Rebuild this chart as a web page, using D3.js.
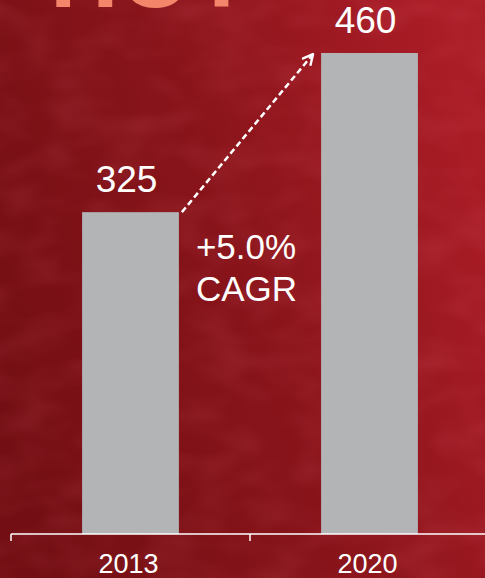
<!DOCTYPE html>
<html>
<head>
<meta charset="utf-8">
<script src="https://cdn.jsdelivr.net/npm/d3@7"></script>
<style>
  html, body { margin: 0; padding: 0; background: #85131a; }
  svg { display: block; }
</style>
</head>
<body>
<div id="chart"></div>
<script>
// Market size by year
const years = ["2013", "2020"];
const values = [325, 460];
const growthLabel = ["+5.0%", "CAGR"];
const headline = "HOT";

const W = 485, H = 578;
const svg = d3.select("#chart").append("svg")
  .attr("width", W).attr("height", H)
  .style("font-family", "'Liberation Sans', Arial, sans-serif");

const defs = svg.append("defs");

// Deep red backdrop, brighter toward the right
const bg = defs.append("linearGradient").attr("id", "bgGrad")
  .attr("x1", "0%").attr("y1", "70%").attr("x2", "100%").attr("y2", "30%");
bg.append("stop").attr("offset", "0%").attr("stop-color", "#730f14");
bg.append("stop").attr("offset", "50%").attr("stop-color", "#88141a");
bg.append("stop").attr("offset", "100%").attr("stop-color", "#aa1c26");

// Soft mottled texture
const tex = defs.append("filter").attr("id", "texture")
  .attr("x", 0).attr("y", 0).attr("width", "100%").attr("height", "100%");
tex.append("feTurbulence").attr("type", "fractalNoise")
  .attr("baseFrequency", "0.02 0.035").attr("numOctaves", 2).attr("seed", 7).attr("result", "noise");
tex.append("feColorMatrix").attr("in", "noise").attr("type", "matrix")
  .attr("values", "0 0 0 0 0.8  0 0 0 0 0.15  0 0 0 0 0.2  0 0 0 -1.6 1.0");

svg.append("rect").attr("width", W).attr("height", H).attr("fill", "url(#bgGrad)");
svg.append("rect").attr("width", W).attr("height", H)
  .attr("filter", "url(#texture)").attr("opacity", 0.16);

// Headline, mostly cropped off the top edge
svg.append("text")
  .attr("x", 50).attr("y", 7)
  .attr("font-size", 95).attr("font-weight", "bold")
  .attr("fill", "#f3866a")
  .text(headline);

// Scales
const axisY = 534;
const x = d3.scaleBand().domain(years).range([11, 489]).padding(0);
const y = d3.scaleLinear().domain([52, 460]).range([axisY, 53]);
const barW = x.bandwidth() * 0.405;
const cx = d => x(d) + x.bandwidth() / 2;

// Bars
svg.append("g").selectAll("rect")
  .data(years)
  .join("rect")
  .attr("x", (d) => cx(d) - barW / 2)
  .attr("y", (d, i) => y(values[i]))
  .attr("width", barW)
  .attr("height", (d, i) => axisY - y(values[i]))
  .attr("fill", "#b3b4b6");

// Value labels
svg.append("g").selectAll("text")
  .data(years)
  .join("text")
  .attr("x", d => cx(d) - 4)
  .attr("y", (d, i) => y(values[i]) - 20)
  .attr("text-anchor", "middle")
  .attr("font-size", 37)
  .attr("fill", "#ffffff")
  .text((d, i) => values[i]);

// Category axis with boundary ticks
const axisG = svg.append("g").attr("transform", `translate(0,${axisY})`);
axisG.append("line")
  .attr("x1", x.range()[0]).attr("x2", x.range()[1])
  .attr("stroke", "#ffffff").attr("stroke-width", 1.5);
const boundaries = years.map(d => x(d)).concat([x.range()[1]]);
axisG.selectAll("line.tick")
  .data(boundaries)
  .join("line").attr("class", "tick")
  .attr("x1", d => d).attr("x2", d => d)
  .attr("y1", 0).attr("y2", 7)
  .attr("stroke", "#ffffff").attr("stroke-width", 1.5);
axisG.selectAll("text")
  .data(years)
  .join("text")
  .attr("x", d => cx(d) - 2)
  .attr("y", 39)
  .attr("text-anchor", "middle")
  .attr("font-size", 27)
  .attr("fill", "#ffffff")
  .text(d => d);

// Growth arrow between the bar tops
defs.append("marker").attr("id", "arrowHead")
  .attr("viewBox", "0 0 12 12").attr("refX", 11).attr("refY", 6)
  .attr("markerWidth", 13).attr("markerHeight", 13)
  .attr("markerUnits", "userSpaceOnUse")
  .attr("orient", "auto")
  .append("path").attr("d", "M1,1 L11,6 L1,11")
  .attr("fill", "none").attr("stroke", "#ffffff").attr("stroke-width", 2.2);

const x0 = cx(years[0]) + barW / 2 + 3, y0 = y(values[0]);
const x1 = cx(years[1]) - barW / 2 - 8, y1 = y(values[1]) + 1;
svg.append("line")
  .attr("x1", x0).attr("y1", y0).attr("x2", x1).attr("y2", y1)
  .attr("stroke", "#ffffff").attr("stroke-width", 2.5)
  .attr("stroke-dasharray", "6,3.5")
  .attr("marker-end", "url(#arrowHead)");

// CAGR annotation
const noteX = cx(years[0]) + barW / 2 + 17;
const note = svg.append("text")
  .attr("x", noteX)
  .attr("font-size", 35)
  .attr("fill", "#ffffff");
growthLabel.forEach((t, i) => {
  note.append("tspan").attr("x", noteX).attr("y", 259 + i * 42).text(t);
});
</script>
</body>
</html>
